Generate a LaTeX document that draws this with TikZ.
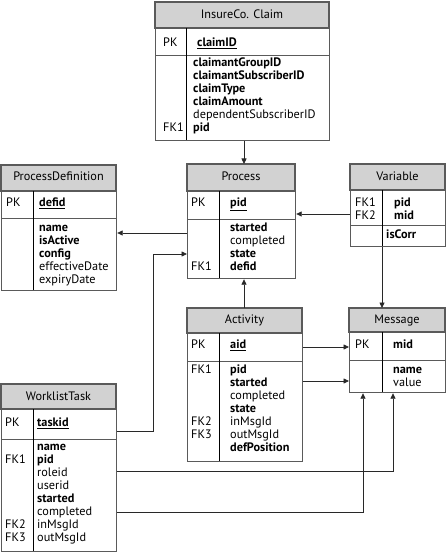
\documentclass[tikz,border=0pt]{standalone}
\usepackage{fontspec}
\setmainfont{PT Sans}
\usetikzlibrary{arrows.meta}

\definecolor{headfill}{RGB}{210,210,210}
\definecolor{framegray}{RGB}{90,90,90}
\definecolor{wiregray}{RGB}{40,40,40}

\newcommand{\pkfield}[1]{\underline{\textbf{#1}}}

\tikzset{
  tablebox/.style={draw=framegray, line width=1.2bp, inner sep=0pt, anchor=north west},
  headbar/.style={fill=headfill, draw=framegray, line width=1.2bp},
  rowrule/.style={draw=framegray, line width=1bp},
  colrule/.style={draw=black, line width=0.8bp},
  tabletitle/.style={anchor=base, inner sep=0pt, font=\fontsize{12.3}{13}\selectfont},
  keytext/.style={anchor=base west, inner sep=0pt, font=\fontsize{12.3}{13}\selectfont},
  fieldlist/.style={anchor=north west, inner sep=0pt, align=left, font=\fontsize{12.3}{13}\selectfont},
  fklink/.style={draw=wiregray, line width=0.8bp, -{Triangle[length=5.5bp, width=5bp]}}
}

\begin{document}
\begin{tikzpicture}[x=1bp, y=-1bp]
	\useasboundingbox (0,0) rectangle (446,552);
	
	% InsureCo. Claim
	\node[tablebox, minimum width=174bp, minimum height=138bp] (claim) at (155,2) {};
	\draw[headbar] (155,2) rectangle (329,28);
	\draw[rowrule] (155,56) -- (329,56);
	\draw[colrule] (186,28) -- (186,140);
	\node[tabletitle] (claimtitle) at (242,18.8) {InsureCo. Claim};
	\node[keytext] (claimpk) at (163,46.8) {PK};
	\node[keytext] (claimid) at (197,46.8) {\pkfield{claimID}};
	\node[fieldlist] (claimkeys) at (163,57.7) {\strut~\\~\\~\\~\\~\\FK1};
	\node[fieldlist] (claimfields) at (193,57.7) {\strut\textbf{claimantGroupID}\\\textbf{claimantSubscriberID}\\\textbf{claimType}\\\textbf{claimAmount}\\dependentSubscriberID\\\textbf{pid}};
	
	% ProcessDefinition
	\node[tablebox, minimum width=115bp, minimum height=125bp] (procdef) at (1,165) {};
	\draw[headbar] (1,165) rectangle (116,191);
	\draw[rowrule] (1,218) -- (116,218);
	\draw[colrule] (33,191) -- (33,290);
	\node[tabletitle] (procdeftitle) at (58.5,180.8) {ProcessDefinition};
	\node[keytext] (procdefpk) at (6,206.8) {PK};
	\node[keytext] (defid) at (39,206.8) {\pkfield{defid}};
	\node[fieldlist] (procdeffields) at (39,222.7) {\strut\textbf{name}\\\textbf{isActive}\\\textbf{config}\\effectiveDate\\expiryDate};
	
	% Process
	\node[tablebox, minimum width=108bp, minimum height=114bp] (process) at (187,164) {};
	\draw[headbar] (187,164) rectangle (295,191);
	\draw[rowrule] (187,219) -- (295,219);
	\draw[colrule] (219,191) -- (219,278);
	\node[tabletitle] (processtitle) at (241,180.8) {Process};
	\node[keytext] (processpk) at (191,206.8) {PK};
	\node[keytext] (pid) at (230,206.8) {\pkfield{pid}};
	\node[fieldlist] (processkeys) at (191,222.7) {\strut~\\~\\~\\FK1};
	\node[fieldlist] (processfields) at (230,222.7) {\strut\textbf{started}\\completed\\\textbf{state}\\\textbf{defid}};
	
	% Variable
	\node[tablebox, minimum width=95bp, minimum height=82bp] (variable) at (350,164) {};
	\draw[headbar] (350,164) rectangle (445,190);
	\draw[rowrule] (350,225) -- (445,225);
	\draw[colrule] (382,190) -- (382,246);
	\node[tabletitle] (variabletitle) at (397.5,180.8) {Variable};
	\node[fieldlist] (variablekeys) at (355,197.7) {\strut FK1\\FK2};
	\node[fieldlist] (variablefks) at (394,197.7) {\strut\textbf{pid}\\\textbf{mid}};
	\node[keytext] (iscorr) at (386,238.8) {\textbf{isCorr}};
	
	% Activity
	\node[tablebox, minimum width=115bp, minimum height=153bp] (activity) at (187,308) {};
	\draw[headbar] (187,308) rectangle (302,333);
	\draw[rowrule] (187,361) -- (302,361);
	\draw[colrule] (219,333) -- (219,461);
	\node[tabletitle] (activitytitle) at (244.5,323.8) {Activity};
	\node[keytext] (activitypk) at (191,348.8) {PK};
	\node[keytext] (aid) at (230,348.8) {\pkfield{aid}};
	\node[fieldlist] (activitykeys) at (191,364.7) {\strut FK1\\~\\~\\~\\FK2\\FK3};
	\node[fieldlist] (activityfields) at (230,364.7) {\strut\textbf{pid}\\\textbf{started}\\completed\\\textbf{state}\\inMsgId\\outMsgId\\\textbf{defPosition}};
	
	% Message
	\node[tablebox, minimum width=96bp, minimum height=84bp] (message) at (349,308) {};
	\draw[headbar] (349,308) rectangle (445,332);
	\draw[rowrule] (349,360) -- (445,360);
	\draw[colrule] (382,332) -- (382,392);
	\node[tabletitle] (messagetitle) at (397,323.8) {Message};
	\node[keytext] (messagepk) at (355,348.8) {PK};
	\node[keytext] (mid) at (393,348.8) {\textbf{mid}};
	\node[fieldlist] (messagefields) at (393,364.7) {\strut\textbf{name}\\value};
	
	% WorklistTask
	\node[tablebox, minimum width=115bp, minimum height=167bp] (wltask) at (1,384) {};
	\draw[headbar] (1,384) rectangle (116,409);
	\draw[rowrule] (1,439) -- (116,439);
	\draw[colrule] (33,409) -- (33,551);
	\node[tabletitle] (wltasktitle) at (58.5,400.8) {WorklistTask};
	\node[keytext] (wltaskpk) at (5,426.8) {PK};
	\node[keytext] (taskid) at (37,426.8) {\pkfield{taskid}};
	\node[fieldlist] (wltaskkeys) at (5,441.7) {\strut~\\FK1\\~\\~\\~\\~\\FK2\\FK3};
	\node[fieldlist] (wltaskfields) at (37,441.7) {\strut\textbf{name}\\\textbf{pid}\\roleid\\userid\\\textbf{started}\\completed\\inMsgId\\outMsgId};
	
	% Foreign key links
	\draw[fklink] (claim.south -| 244,0) -- (process.north -| 244,0);
	\draw[fklink] (variable.west |- 0,214) -- (process.east |- 0,214);
	\draw[fklink] (process.west |- 0,233) -- (procdef.east |- 0,233);
	\draw[fklink] (wltask.east |- 0,431) -| (153,254) -- (process.west |- 0,254);
	\draw[fklink] (activity.north -| 244,0) -- (process.south -| 244,0);
	\draw[fklink] (variable.south -| 382,0) -- (message.north -| 382,0);
	\draw[fklink] (activity.east |- 0,347) -- (message.west |- 0,347);
	\draw[fklink] (activity.east |- 0,381) -- (message.west |- 0,381);
	\draw[fklink] (wltask.east |- 0,471) -| (message.south -| 393,0);
	\draw[fklink] (wltask.east |- 0,512) -| (message.south -| 363,0);
	
\end{tikzpicture}
\end{document}
